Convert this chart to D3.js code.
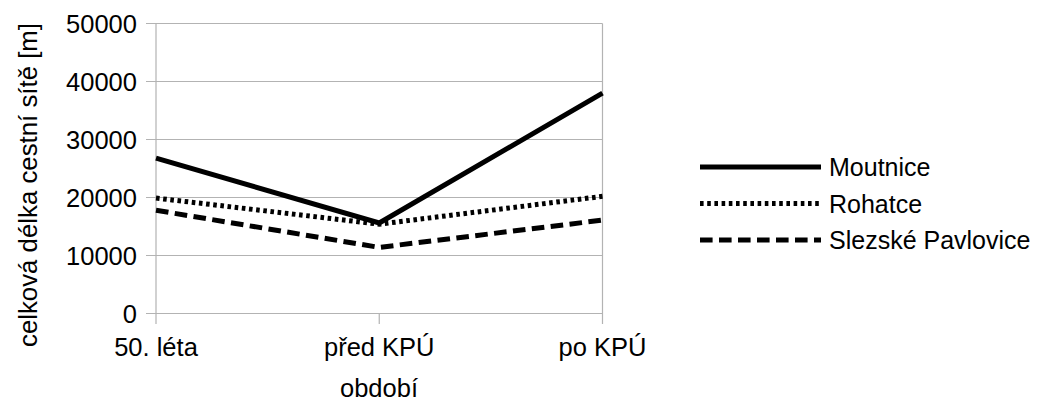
<!DOCTYPE html>
<html><head><meta charset="utf-8">
<script src="https://cdn.jsdelivr.net/npm/d3@7"></script>
<style>
html,body{margin:0;padding:0;background:#fff;}
svg{display:block;font-family:"Liberation Sans",Arial,sans-serif;}
</style></head>
<body>
<svg id="chart" width="1039" height="403"></svg>
<script>
const categories = ["50. léta", "před KPÚ", "po KPÚ"];
const seriesNames = ["Moutnice", "Rohatce", "Slezské Pavlovice"];
const moutnice = [26800, 15600, 38000];
const rohatce = [19900, 15400, 20200];
const slezske = [17800, 11400, 16100];
const yTicks = [0, 10000, 20000, 30000, 40000, 50000];
const dashes = [null, "3.6,3.6", "12.6,6.4"];

const series = [moutnice, rohatce, slezske];
const svg = d3.select("#chart");
const x = d3.scalePoint().domain(categories).range([156, 602.5]).padding(0);
const y = d3.scaleLinear().domain([0, 50000]).range([313.5, 23.5]);
const grid = "#b3b3b3";

// gridlines
svg.append("g").selectAll("line").data(yTicks).join("line")
  .attr("x1", 146).attr("x2", 602.5)
  .attr("y1", d => y(d)).attr("y2", d => y(d))
  .attr("stroke", grid).attr("stroke-width", 1.2);
// vertical axis lines and category ticks
categories.forEach((c, i) => {
  svg.append("line").attr("x1", x(c)).attr("x2", x(c))
    .attr("y1", i === 1 ? y(0) : y(50000)).attr("y2", 324)
    .attr("stroke", grid).attr("stroke-width", 1.2);
});

// y tick labels
svg.append("g").selectAll("text").data(yTicks).join("text")
  .attr("x", 137).attr("y", d => y(d)).attr("dy", "0.36em")
  .attr("text-anchor", "end").attr("font-size", 25.5).attr("fill", "#000")
  .text(d => d);
// x tick labels
svg.append("g").selectAll("text").data(categories).join("text")
  .attr("x", d => x(d)).attr("y", 356)
  .attr("text-anchor", "middle").attr("font-size", 25.5).attr("fill", "#000")
  .text(d => d);
// axis titles
svg.append("text").attr("x", 379).attr("y", 397).attr("text-anchor", "middle")
  .attr("font-size", 25.5).attr("fill", "#000").text("období");
svg.append("text").attr("transform", "translate(37,185) rotate(-90)")
  .attr("text-anchor", "middle").attr("font-size", 25.8).attr("fill", "#000")
  .text("celková délka cestní sítě [m]");

// lines
const line = d3.line().x((d, i) => x(categories[i])).y(d => y(d));
series.forEach((s, i) => {
  svg.append("path").attr("d", line(s)).attr("fill", "none")
    .attr("stroke", "#000").attr("stroke-width", 5)
    .attr("stroke-dasharray", dashes[i]);
});

// legend
const ly = [167, 203.5, 240];
seriesNames.forEach((n, i) => {
  svg.append("line").attr("x1", 700).attr("x2", 821).attr("y1", ly[i]).attr("y2", ly[i])
    .attr("stroke", "#000").attr("stroke-width", 5).attr("stroke-dasharray", dashes[i]);
  svg.append("text").attr("x", 829).attr("y", ly[i]).attr("dy", "0.36em")
    .attr("font-size", 25).attr("fill", "#000").text(n);
});
</script>
</body></html>
